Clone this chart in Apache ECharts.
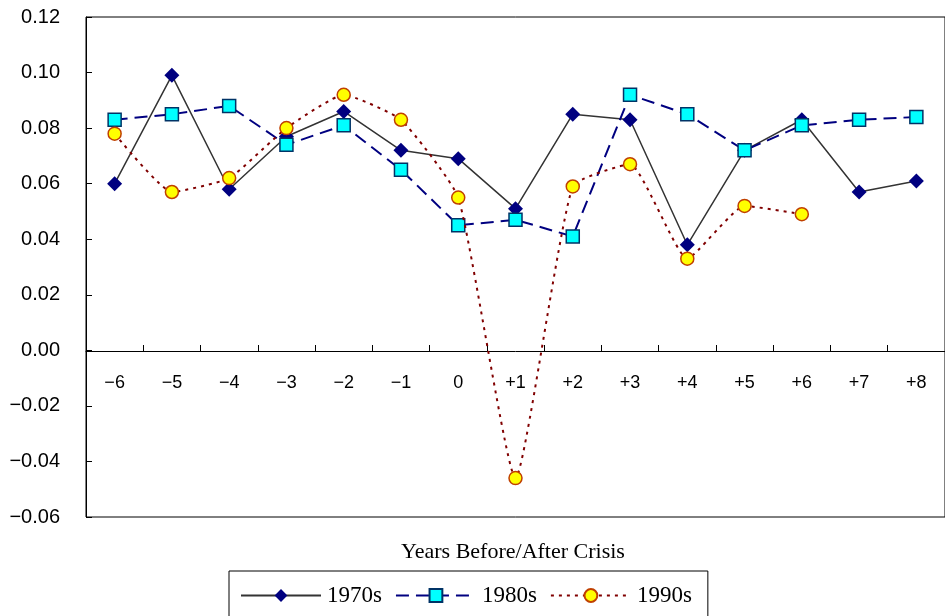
<!DOCTYPE html>
<html>
<head>
<meta charset="utf-8">
<script src="https://cdn.jsdelivr.net/npm/echarts@6/dist/echarts.min.js"></script>
<style>
  html, body { margin: 0; padding: 0; background: #fff; }
  #grafico { width: 945px; height: 616px; }
</style>
</head>
<body>
<div id="grafico"></div>
<script>
const anios = ["\u22126", "\u22125", "\u22124", "\u22123", "\u22122", "\u22121", "0",
  "+1", "+2", "+3", "+4", "+5", "+6", "+7", "+8"];
const serie1970 = [0.060, 0.099, 0.058, 0.077, 0.086, 0.072, 0.069, 0.051, 0.085, 0.083, 0.038, 0.072, 0.083, 0.057, 0.061];
const serie1980 = [0.083, 0.085, 0.088, 0.074, 0.081, 0.065, 0.045, 0.047, 0.041, 0.092, 0.085, 0.072, 0.081, 0.083, 0.084];
const serie1990 = [0.078, 0.057, 0.062, 0.080, 0.092, 0.083, 0.055, -0.046, 0.059, 0.067, 0.033, 0.052, 0.049, "-", "-"];
const nombres = ["1970s", "1980s", "1990s"];

const fuenteEje = '"Liberation Sans", Arial, sans-serif';
const fuenteSerif = '"Liberation Serif", "DejaVu Serif", serif';

const grafico = echarts.init(document.getElementById("grafico"));

// el eje x va sobre el cero: se sube con offset (517 - 351 px)
grafico.setOption({
  animation: false,
  title: {
    text: "Years Before/After Crisis",
    left: 508,
    top: 536,
    textAlign: "center",
    textStyle: { fontFamily: fuenteSerif, fontSize: 22, fontWeight: "normal", color: "#000" }
  },
  legend: {
    data: nombres,
    left: 229,
    top: 571,
    padding: [13, 16, 30, 11],
    borderColor: "#000",
    borderWidth: 1,
    itemWidth: 80,
    itemHeight: 16,
    itemGap: 13,
    textStyle: { fontFamily: fuenteSerif, fontSize: 23, color: "#000", padding: [0, 0, 0, 1] }
  },
  grid: {
    left: 86,
    right: -1,
    top: 17,
    bottom: 99,
    show: true,
    borderColor: "#000",
    borderWidth: 1,
    containLabel: false
  },
  xAxis: {
    type: "category",
    data: anios,
    boundaryGap: true,
    position: "bottom",
    offset: -166,
    axisLine: { show: true, onZero: false, lineStyle: { color: "#000", width: 1 } },
    axisTick: { show: true, interval: 0, inside: true, length: 6, lineStyle: { color: "#000", width: 1 } },
    axisLabel: { margin: 23, fontFamily: fuenteEje, fontSize: 18, color: "#000" },
    splitLine: { show: false }
  },
  yAxis: {
    type: "value",
    min: -0.06,
    max: 0.12,
    interval: 0.02,
    axisLine: { show: true, lineStyle: { color: "#000", width: 1 } },
    axisTick: { show: true, inside: true, length: 6, lineStyle: { color: "#000" } },
    axisLabel: {
      margin: 26,
      fontFamily: fuenteEje,
      fontSize: 20,
      color: "#000",
      formatter: (v) => {
        const t = Math.abs(v).toFixed(2);
        return v < -0.0001 ? "\u2212" + t : t;
      }
    },
    splitLine: { show: false }
  },
  series: [
    {
      name: "1970s",
      type: "line",
      data: serie1970,
      symbol: "diamond",
      symbolSize: 15,
      itemStyle: { color: "#000080" },
      lineStyle: { color: "#333", width: 1.5, type: "solid" },
      z: 2
    },
    {
      name: "1980s",
      type: "line",
      data: serie1980,
      symbol: "rect",
      symbolSize: 13,
      itemStyle: { color: "#00FFFF", borderColor: "#003366", borderWidth: 1.5 },
      lineStyle: { color: "#000080", width: 2, type: [13, 7] },
      z: 3
    },
    {
      name: "1990s",
      type: "line",
      data: serie1990,
      smooth: 0.15,
      symbol: "circle",
      symbolSize: 13,
      connectNulls: false,
      itemStyle: { color: "#FFFF00", borderColor: "#C04000", borderWidth: 1.5 },
      lineStyle: { color: "#800000", width: 2, type: [3, 5] },
      z: 4
    }
  ]
});
</script>
</body>
</html>
